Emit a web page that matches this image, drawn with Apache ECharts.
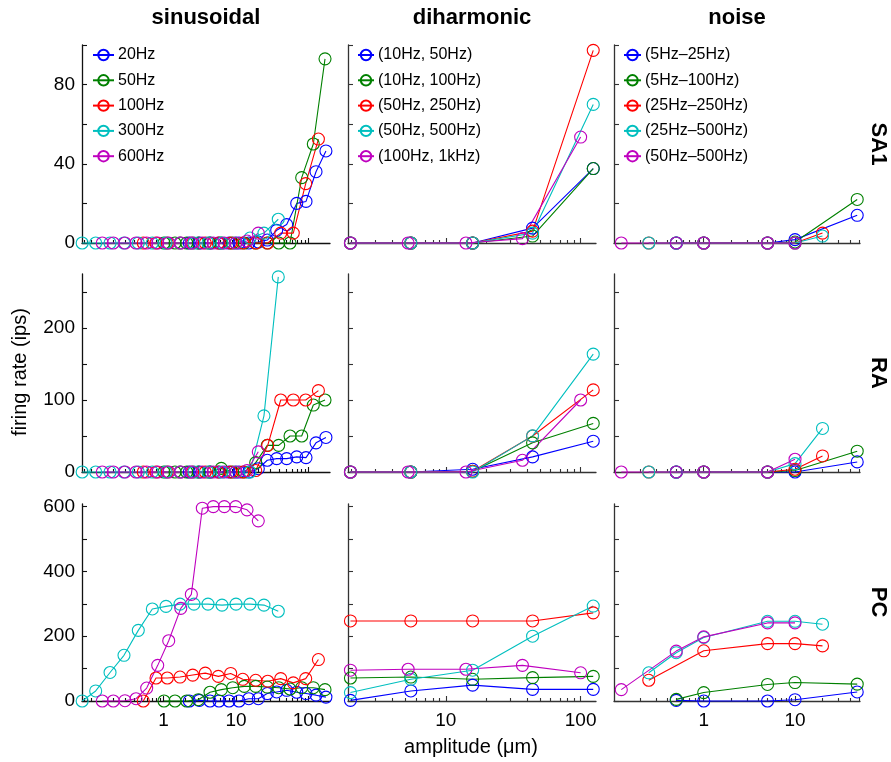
<!DOCTYPE html>
<html><head><meta charset="utf-8">
<script src="https://cdn.jsdelivr.net/npm/echarts@6/dist/echarts.min.js"></script>
<style>html,body{margin:0;padding:0;background:#fff}#c{width:891px;height:762px}</style>
</head><body><div id="c"></div>
<script>
// ---------- categories / names ----------
const colTitles = ['sinusoidal', 'diharmonic', 'noise'];
const rowTitles = ['SA1', 'RA', 'PC'];
const sinNames = ['20Hz', '50Hz', '100Hz', '300Hz', '600Hz'];
const diNames = ['(10Hz, 50Hz)', '(10Hz, 100Hz)', '(50Hz, 250Hz)', '(50Hz, 500Hz)', '(100Hz, 1kHz)'];
const noiseNames = ['(5Hz–25Hz)', '(5Hz–100Hz)', '(25Hz–250Hz)', '(25Hz–500Hz)', '(50Hz–500Hz)'];

// ---------- amplitudes (µm) ----------
const sinAmp20 = [2.27, 3.12, 4.38, 5.83, 8.01, 11.0, 15.0, 20.3, 27.0, 36.4, 50.0, 68.8, 92.4, 127, 174];
const sinAmp50 = [1.016, 1.44, 2.09, 3.02, 4.38, 6.27, 9.01, 13.0, 18.7, 27.0, 38.8, 55.6, 80.6, 116.5, 169];
const sinAmp100 = [0.526, 0.788, 1.128, 1.69, 2.53, 3.77, 5.70, 8.45, 12.4, 18.7, 27.4, 41.4, 61.7, 91.5, 137];
const sinAmp300 = [0.0755, 0.116, 0.183, 0.285, 0.449, 0.701, 1.083, 1.69, 2.63, 4.11, 6.41, 10.0, 15.6, 24.3, 38.3];
const sinAmp600 = [0.143, 0.203, 0.294, 0.418, 0.586, 0.832, 1.18, 1.73, 2.42, 3.43, 4.86, 6.90, 9.91, 14.2, 20.3];
const diAmpA = [1.96, 5.5, 15.8, 44, 124];
const diAmpB = [1.96, 5.25, 14.1, 37, 100];
const noiseAmp20 = [0.5, 1, 5, 10, 48];
const noiseAmp100 = [0.25, 1, 5, 10, 20];
const noiseAmp300 = [0.25, 0.5, 1, 5, 10, 20];
const noiseAmp600 = [0.125, 0.5, 1, 5, 10];

// ---------- firing rates (ips) ----------
const sinSA1 = [
  [0, 0, 0, 0, 0, 0, 0, 0.5, 1.5, 6.4, 9.3, 20, 21, 36, 46.5],
  [0, 0, 0, 0, 0, 0, 0, 0, 0, 0, 0, 0, 33, 50, 93],
  [0, 0, 0, 0, 0, 0, 0, 0, 0, 0, 0, 5, 5, 30, 52.5],
  [0, 0, 0, 0, 0, 0, 0, 0, 0, 0, 0, 0, 2.5, 5, 12],
  [0, 0, 0, 0, 0, 0, 0, 0, 0, 0, 0, 0, 0, 1, 5]
];
const sinRA = [
  [0, 0, 0, 0, 0, 0, 0, 4.6, 16.3, 18.6, 18.6, 21, 20, 40.5, 48],
  [0, 0, 0, 0, 0, 5, 0, 0, 13, 37, 37, 50, 50, 93, 100],
  [0, 0, 0, 0, 0, 0, 0, 0, 0, 2, 37, 100, 100, 100, 113],
  [0, 0, 0, 0, 0, 0, 0, 0, 0, 0, 0, 0, 0, 78, 271],
  [0, 0, 0, 0, 0, 0, 0, 0, 0, 0, 0, 0, 0, 2, 28]
];
const sinPC = [
  [0, 2, 0, 0, 0, 0, 7, 7, 23, 28, 33, 27, 23, 18, 12],
  [0, 0, 0, 4, 27, 35, 41, 45, 45, 43, 41, 37, 41, 41, 35],
  [0, 71, 71, 74, 80, 86, 76, 85, 67, 64, 61, 69, 56, 69, 128],
  [0, 31, 88, 141, 218, 284, 292, 299, 299, 299, 296, 299, 299, 296, 277],
  [0, 0, 1, 7, 40, 110, 186, 286, 329, 595, 600, 600, 600, 590, 556]
];
const diSA1 = [
  [0, 0, 0, 7.5, 37.6],
  [0, 0, 0, 3.5, 37.6],
  [0, 0, 0, 6, 97.3],
  [0, 0, 0, 5, 70],
  [0, 0, 0, 2.2, 53.5]
];
const diRA = [
  [0, 0, 3.8, 21, 42.8],
  [0, 0, 1, 40.5, 67.5],
  [0, 0, 1, 50, 114],
  [0, 0, 0, 50.2, 163.7],
  [0, 0, 0, 16.3, 100]
];
const diPC = [
  [2, 31, 49, 36, 36],
  [71, 74, 67, 72, 76],
  [247, 247, 247, 247, 272],
  [26, 67, 95, 200, 293],
  [95, 98, 98, 110, 87]
];
const noiseSA1 = [
  [0, 0, 0, 1.7, 14],
  [0, 0, 0, 0.5, 22],
  [0, 0, 0, 0, 5],
  [0, 0, 0, 0, 0, 3.5],
  [0, 0, 0, 0, 0]
];
const noiseRA = [
  [0, 0, 0, 0, 14],
  [0, 0, 0, 2, 28.9],
  [0, 0, 0, 3.8, 22.3],
  [0, 0, 0, 0, 11.6, 60.5],
  [0, 0, 0, 0, 17.7]
];
const noisePC = [
  [2, 0, 0, 4, 28],
  [5, 26, 51, 57, 52],
  [64, 155, 177, 177, 170],
  [87, 149, 196, 246, 246, 237],
  [35, 154, 198, 241, 241]
];

// ---------- tick labels ----------
const xTickLabels = [[1, 10, 100], [10, 100], [1, 10]];
const yTickValues = [[0, 20, 40, 60, 80, 100], [0, 50, 100, 150, 200, 250], [0, 100, 200, 300, 400, 500, 600]];
const yTickLabels = [[0, 40, 80], [0, 100, 200], [0, 200, 400, 600]];

// ---------- layout / style ----------
const FONT = '"Liberation Sans", Arial, Helvetica, sans-serif';
const colors = ['#0000ff', '#008000', '#ff0000', '#00bfbf', '#bf00bf'];
const colLeft = [82, 348, 614], colWidth = [248, 248, 246];
const rowTop = [45, 274, 504], rowHeight = [198, 198, 197];
const xRange = [[0.0751, 198], [1.88, 130], [0.104, 51.5]];
const yMax = [100, 275, 608];

const names = [sinNames, diNames, noiseNames];
const amps = [
  [sinAmp20, sinAmp50, sinAmp100, sinAmp300, sinAmp600],
  [diAmpA, diAmpA, diAmpA, diAmpA, diAmpB],
  [noiseAmp20, noiseAmp20, noiseAmp100, noiseAmp300, noiseAmp600]
];
const rates = [
  [sinSA1, diSA1, noiseSA1],
  [sinRA, diRA, noiseRA],
  [sinPC, diPC, noisePC]
];

function minorTicks(min, max, major) {
  const out = [];
  for (let d = -2; d <= 3; d++) {
    for (let m = 1; m <= 9; m++) {
      const v = +(m * Math.pow(10, d)).toPrecision(6);
      if (v >= min && v <= max && major.indexOf(v) < 0) out.push(v);
    }
  }
  return out;
}

const grid = [], xAxis = [], yAxis = [], series = [];
for (let r = 0; r < 3; r++) {
  for (let c = 0; c < 3; c++) {
    const g = r * 3 + c;
    const axisCol = c === 0 ? '#111' : '#333';
    grid.push({ left: colLeft[c], top: rowTop[r], width: colWidth[c], height: rowHeight[r] });
    xAxis.push({
      type: 'log', gridIndex: g, min: xRange[c][0], max: xRange[c][1], position: 'bottom',
      axisLine: { show: true, onZero: false, lineStyle: { color: axisCol, width: 1.3 } },
      axisTick: { show: true, inside: true, length: 5, customValues: xTickLabels[c], lineStyle: { color: axisCol, width: 1.1 } },
      axisLabel: { show: r === 2, customValues: xTickLabels[c], fontSize: 19, fontFamily: FONT, color: '#000', margin: 10 },
      splitLine: { show: false }, minorTick: { show: false }
    });
    xAxis.push({
      type: 'log', gridIndex: g, min: xRange[c][0], max: xRange[c][1], position: 'bottom',
      axisLine: { show: false },
      axisTick: { show: true, inside: true, length: 3, customValues: minorTicks(xRange[c][0], xRange[c][1], xTickLabels[c]), lineStyle: { color: axisCol, width: 1.1 } },
      axisLabel: { show: false }, splitLine: { show: false }
    });
    yAxis.push({
      type: 'value', gridIndex: g, min: 0, max: yMax[r],
      axisLine: { show: true, lineStyle: { color: axisCol, width: 1.3 } },
      axisTick: { show: true, inside: true, length: 5, customValues: yTickValues[r], lineStyle: { color: axisCol, width: 1.1 } },
      axisLabel: { show: c === 0, customValues: yTickLabels[r], fontSize: 19, fontFamily: FONT, color: '#000', margin: 7 },
      splitLine: { show: false }
    });
    for (let s = 0; s < 5; s++) {
      const xs = amps[c][s], ys = rates[r][c][s];
      series.push({
        type: 'line', name: names[c][s], xAxisIndex: 2 * g, yAxisIndex: g,
        data: xs.map((a, i) => [a, ys[i]]),
        symbol: 'circle', symbolSize: 12, clip: false,
        color: colors[s],
        itemStyle: { color: 'rgba(0,0,0,0)', borderColor: colors[s], borderWidth: 1.1 },
        lineStyle: { color: colors[s], width: 1.1 },
        emphasis: { disabled: true }, animation: false
      });
    }
  }
}

const legendLeft = [92, 357, 623], legendIcon = [21, 16, 17];
const legend = [0, 1, 2].map(c => ({
  orient: 'vertical', left: legendLeft[c], top: 47, itemWidth: legendIcon[c], itemHeight: 13, itemGap: 9.3,
  data: names[c], textStyle: { fontSize: 16, fontFamily: FONT, color: '#000', padding: [0, 0, 0, -1] },
  padding: 0, selectedMode: false
}));

const txt = (x, y, text, size, bold, rot) => ({
  type: 'text', x: x, y: y, rotation: rot || 0,
  style: { text: text, fontSize: size, fontWeight: bold ? 'bold' : 'normal', fontFamily: FONT, fill: '#000', align: 'center', verticalAlign: 'middle' }
});
const graphic = [
  txt(206, 18, colTitles[0], 22, true), txt(472, 18, colTitles[1], 22, true), txt(737, 18, colTitles[2], 22, true),
  txt(878, 144, rowTitles[0], 22, true, -Math.PI / 2), txt(878, 373, rowTitles[1], 22, true, -Math.PI / 2), txt(878, 602, rowTitles[2], 22, true, -Math.PI / 2),
  txt(20, 372, 'firing rate (ips)', 20, false, Math.PI / 2),
  txt(471, 747, 'amplitude (μm)', 20, false)
];

const chart = echarts.init(document.getElementById('c'), null, { renderer: 'canvas' });
chart.setOption({ animation: false, backgroundColor: '#fff', grid, xAxis, yAxis, series, legend, graphic });
</script></body></html>
